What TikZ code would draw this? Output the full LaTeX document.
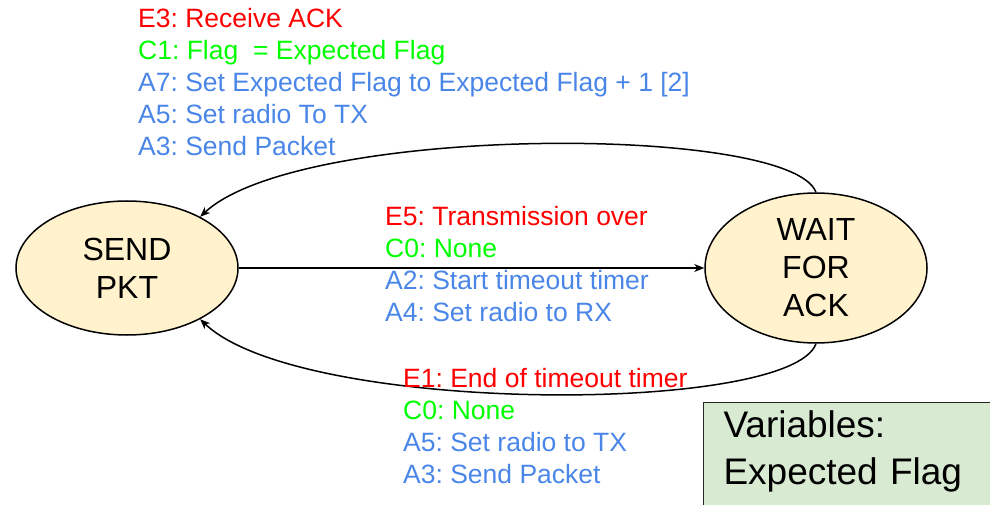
\documentclass[tikz,border=0pt]{standalone}
\usepackage{fontspec}
\setmainfont{Liberation Sans}
\usetikzlibrary{shapes.geometric, arrows.meta, positioning}
\frenchspacing
\definecolor{stateFill}{HTML}{FFF2CC}
\definecolor{varFill}{HTML}{D9EAD3}
\definecolor{evRed}{HTML}{FF0000}
\definecolor{condGreen}{HTML}{00FF00}
\definecolor{actBlue}{HTML}{4A86E8}
\tikzset{
  fsmState/.style={ellipse, draw=black, line width=1.5pt, fill=stateFill, align=center,
               inner sep=0pt, font=\fontsize{32}{38}\selectfont},
  txtBlock/.style={align=left, inner sep=0pt, font=\fontsize{26.5}{32}\selectfont},
  varBox/.style={draw=black!85, line width=1pt, fill=varFill, align=left, text width=270pt,
               inner xsep=20pt, inner ysep=8pt, font=\fontsize{37}{47}\selectfont},
  arrow/.style={-{Stealth[length=10pt, width=8pt, inset=3pt]}, line width=1.5pt},
}
\begin{document}
\begin{tikzpicture}[x=1pt, y=-1pt]
\useasboundingbox (0,0) rectangle (990,505);
% states
\node[fsmState, minimum width=222pt, minimum height=134pt] (send) at (127,268) {SEND\\PKT};
\node[fsmState, minimum width=222pt, minimum height=150pt] (wait) at (816,268) {WAIT\\FOR\\ACK};
% transitions
\draw[arrow] (wait.north) .. controls (790,124) and (300,124) .. (send.35);
\draw[arrow] (send.east) -- (wait.west);
\draw[arrow] (wait.south) .. controls (790,415) and (300,415) .. (send.-35);
% labels
\node[txtBlock, anchor=north west] (ackLbl) at (138,8) {\textcolor{evRed}{E3: Receive ACK}\\
  \textcolor{condGreen}{C1: Flag\ \ = Expected Flag}\\
  \textcolor{actBlue}{A7: Set Expected Flag to Expected Flag + 1 [2]}\\
  \textcolor{actBlue}{A5: Set radio To TX}\\
  \textcolor{actBlue}{A3: Send Packet}};
\node[txtBlock, anchor=north west] (txLbl) at (385,206) {\textcolor{evRed}{E5: Transmission over}\\
  \textcolor{condGreen}{C0: None}\\
  \textcolor{actBlue}{A2: Start timeout timer}\\
  \textcolor{actBlue}{A4: Set radio to RX}};
\node[txtBlock, anchor=north west] (toLbl) at (403,368) {\textcolor{evRed}{E1: End of timeout timer}\\
  \textcolor{condGreen}{C0: None}\\
  \textcolor{actBlue}{A5: Set radio to TX}\\
  \textcolor{actBlue}{A3: Send Packet}};
\node[varBox, anchor=north west] (vars) at (703,402) {Variables:\\Expected Flag\\ \strut};
\end{tikzpicture}
\end{document}
